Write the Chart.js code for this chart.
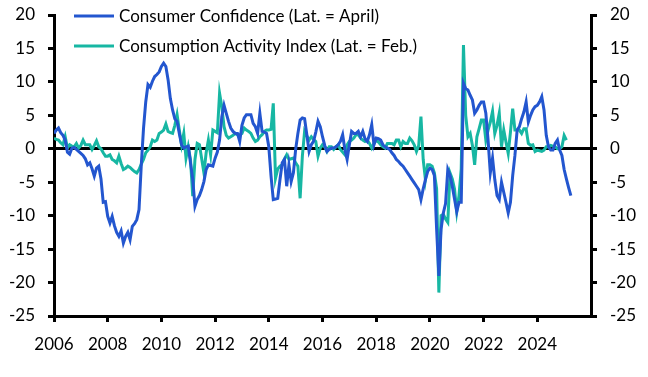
<!DOCTYPE html>
<html>
<head>
<meta charset="utf-8">
<script src="https://cdn.jsdelivr.net/npm/chart.js@4.4.1/dist/chart.umd.min.js"></script>
<style>
  html, body { margin: 0; padding: 0; background: #fff; }
  #wrap { width: 648px; height: 377px; position: relative; }
</style>
</head>
<body>
<div id="wrap"><canvas id="myChart" width="648" height="377"></canvas></div>
<script>
// monthly data, first value = Jan 2006
const startYear = 2006
const confidenceLabel = "Consumer Confidence (Lat. = April)"
const activityLabel = "Consumption Activity Index (Lat. = Feb.)"

// Consumer Confidence, Jan 2006 - Apr 2025
const confidence = [
  2.3, 2.8, 3.1, 2.4, 2.0, 1.3, -0.5, -0.8, 0.1, 0.2, -0.1, -0.4,
  -0.7, -1.0, -1.5, -2.4, -2.1, -3.0, -4.1, -2.9, -2.6, -4.5, -8.0, -7.9,
  -10.1, -11.1, -10.1, -11.5, -12.5, -13.1, -12.3, -14.1, -13.1, -12.5, -13.6, -11.6,
  -11.2, -10.6, -9.1, -2.5, 3.0, 7.0, 9.6, 9.2, 10.1, 10.8, 11.1, 11.5,
  12.3, 12.8, 12.3, 10.3, 7.5, 5.8, 4.5, 4.1, 2.3, 0.6, 0.1, 0.3,
  0.4, -2.1, -4.5, -8.6, -7.6, -7.0, -6.1, -4.9, -3.1, -2.4, -2.5, -2.6,
  -1.4, -0.5, 1.3, 4.8, 6.5, 5.3, 4.1, 3.1, 2.6, 2.3, 2.3, 1.1,
  3.5, 4.6, 5.1, 5.1, 5.1, 3.8, 3.3, 2.3, 5.3, 2.6, 2.5, 2.3,
  0.3, -4.1, -7.6, -7.5, -7.4, -4.6, -2.1, -1.6, -5.6, -2.4, -4.9, -3.6,
  -0.1, 2.3, 4.3, 4.6, 4.5, 2.1, -0.4, 0.6, 1.1, 2.5, 4.1, 3.3,
  1.8, 0.5, -0.4, -0.1, 0.1, 0.1, 0.3, 0.6, 1.1, 2.1, -0.1, -1.6,
  0.6, 2.6, 2.3, 2.3, 2.6, 1.8, 2.6, 1.5, 1.1, 2.1, 3.6, 0.6,
  1.6, 1.5, 1.3, 0.6, 0.3, 0.1, -0.1, -0.6, -1.0, -1.6, -1.9, -2.3,
  -2.6, -3.1, -3.6, -4.1, -4.6, -5.1, -5.6, -6.1, -7.6, -6.0, -4.6, -3.4,
  -2.9, -3.1, -4.0, -12.0, -19.0, -12.0, -9.6, -8.2, -3.1, -4.0, -5.6, -7.5,
  -9.4, -8.0, -8.0, 9.8, 9.0, 8.8, 8.0, 7.3, 5.3, 5.8, 6.5, 7.0,
  7.0, 5.3, 1.3, -3.6, -1.4, -4.6, -7.0, -7.6, -5.0, -6.5, -8.0, -9.6,
  -8.0, -4.0, -1.0, 2.8, 3.3, 4.5, 5.5, 7.0, 4.0, 5.0, 5.8, 6.3,
  6.5, 7.0, 7.8, 5.8, 2.0, 0.3, -0.2, -0.2, 0.8, 1.3, -0.2, -1.0,
  -3.1, -4.5, -5.8, -7.0
]

// Consumption Activity Index, Jan 2006 - Feb 2025
const activity = [
  1.6, 1.4, 1.3, 0.9, 0.6, 1.8, 0.1, 0.6, 0.4, 0.3, 0.8, 0.1,
  0.5, 1.3, 0.6, 0.6, 0.6, -0.1, 0.5, 1.2, 0.3, 0.0, -0.6, -1.1,
  -1.1, -0.9, -1.6, -1.8, -2.1, -1.1, -2.2, -3.1, -2.9, -2.6, -2.8, -3.1,
  -3.4, -3.6, -3.1, -2.3, -1.6, -0.6, -0.2, 0.3, 1.3, 1.1, 1.3, 2.3,
  2.5, 2.8, 3.7, 2.6, 2.4, 2.3, 3.5, 5.1, 2.8, 0.6, 2.3, -1.4,
  0.3, -1.6, -7.1, -1.6, 0.8, 0.6, -1.5, -3.6, -0.6, 1.3, -0.9, 2.8,
  2.6, 2.4, 8.3, 6.3, 3.3, 2.0, 1.6, 1.8, 2.0, 2.3, 2.1, 2.1,
  2.3, 3.1, 2.8, 2.6, 2.3, 1.6, 1.1, 1.3, 1.8, 2.1, 2.6, 2.8,
  2.8, 2.9, 6.8, -4.4, -3.0, -2.6, -2.4, -1.5, -0.9, -1.6, -1.5, -1.4,
  -2.1, -2.6, -7.4, -1.1, 2.6, 1.9, 1.3, 1.8, 1.4, 1.1, -1.1, 0.1,
  0.6, 0.3, -0.4, 0.3, 0.3, -0.1, 0.3, 0.6, -0.1, -0.5, -0.9, 0.6,
  1.1, 1.3, 1.6, 2.1, 2.1, 1.6, 1.3, 1.1, 1.3, 0.8, 0.1, 0.8,
  1.3, 1.0, 0.6, 0.3, 0.1, 0.8, 0.8, 0.8, 0.6, 1.3, 1.3, 0.3,
  1.1, 0.8, 0.8, 1.6, 1.2, 0.6, -0.4, 0.5, 4.8, -1.6, -4.6, -2.4,
  -2.4, -2.6, -3.6, -6.0, -21.5, -10.0, -9.8, -10.5, -11.0, -3.6, -4.5, -6.0,
  -9.4, -7.0, -3.0, 15.5, 5.0, 1.8, 2.3, 0.5, -2.4, 1.8, 3.0, 4.3,
  4.3, 1.3, 2.8, 4.0, 5.6, 2.3, 3.5, 5.3, 0.3, 2.8, 1.0, -0.7,
  2.5, 6.0, 2.8, 2.8, 2.8, 2.3, 3.0, 3.0, 0.8, 0.5, 0.6, -0.4,
  -0.2, -0.3, -0.4, -0.2, 0.3, 0.3, 0.5, 0.4, 0.3, 0.0, 0.0, 0.3,
  2.0, 1.3
]

const xTickLabels = [2006, 2008, 2010, 2012, 2014, 2016, 2018, 2020, 2022, 2024]
const yTickLabels = [20, 15, 10, 5, 0, -5, -10, -15, -20, -25]

const blue = "#2356cf"
const teal = "#17b7a3"
const fontName = "Lato, 'Open Sans', sans-serif"

function toPoints(values) {
    let pts = []
    for (let i = 0; i < values.length; i++) {
        pts.push({ x: startYear + i / 12, y: values[i] })
    }
    return pts
}

//Legend im Plotbereich oben links
const innerLegend = {
    id: 'innerLegend',
    afterDraw(chart) {
        const ctx = chart.ctx
        const sets = chart.data.datasets
        ctx.save()
        ctx.font = "17px " + fontName
        ctx.textBaseline = "middle"
        for (let i = 0; i < sets.length; i++) {
            let y = 16 + i * 30
            ctx.strokeStyle = sets[i].borderColor
            ctx.lineWidth = 3
            ctx.beginPath()
            ctx.moveTo(74, y)
            ctx.lineTo(114, y)
            ctx.stroke()
            ctx.fillStyle = "#000"
            ctx.fillText(sets[i].label, 119, y + 1)
        }
        ctx.restore()
    }
}

function yAxis(pos, width) {
    return {
        type: 'linear',
        position: pos,
        min: -25,
        max: 20,
        afterBuildTicks: (axis) => { axis.ticks = yTickLabels.map(v => ({ value: v })) },
        afterFit: (axis) => {
            axis.width = width
            axis.paddingTop = 0
            axis.paddingBottom = 0
        },
        border: { display: true, color: "#000", width: 3 },
        grid: {
            drawOnChartArea: pos === 'left',
            color: (c) => (c.tick && c.tick.value === 0) ? "#000" : "rgba(0,0,0,0)",
            lineWidth: 3,
            tickColor: "#000",
            tickLength: 6,
            tickWidth: 3
        },
        ticks: {
            color: "#000",
            font: { family: fontName, size: 17 },
            padding: 13,
            autoSkip: false,
            callback: (v) => v
        }
    }
}

const chart = document.getElementById("myChart")
let linechart = new Chart(chart, {
    type: "line",
    data: {
        datasets: [{
            label: confidenceLabel,
            data: toPoints(confidence),
            borderColor: blue,
            borderWidth: 3,
            pointRadius: 0,
            tension: 0
        }, {
            label: activityLabel,
            data: toPoints(activity),
            borderColor: teal,
            borderWidth: 3,
            pointRadius: 0,
            tension: 0
        }]
    },
    plugins: [innerLegend],
    options: {
        responsive: false,
        animation: false,
        devicePixelRatio: 1,
        layout: { padding: { top: 15, left: 0, right: 0, bottom: 0 } },
        plugins: {
            legend: { display: false },
            tooltip: { enabled: false }
        },
        scales: {
            x: {
                type: 'linear',
                min: 2006,
                max: 2026,
                afterBuildTicks: (axis) => { axis.ticks = xTickLabels.map(v => ({ value: v })) },
                afterFit: (axis) => {
                    axis.height = 61
                    axis.paddingLeft = 0
                    axis.paddingRight = 0
                },
                border: { display: true, color: "#000", width: 3 },
                grid: {
                    drawOnChartArea: false,
                    tickColor: "#000",
                    tickLength: 6,
                    tickWidth: 3
                },
                ticks: {
                    color: "#000",
                    font: { family: fontName, size: 17 },
                    padding: 12,
                    maxRotation: 0,
                    autoSkip: false,
                    callback: (v) => v
                }
            },
            y: yAxis('left', 54),
            y2: yAxis('right', 57)
        }
    }
})
</script>
</body>
</html>
